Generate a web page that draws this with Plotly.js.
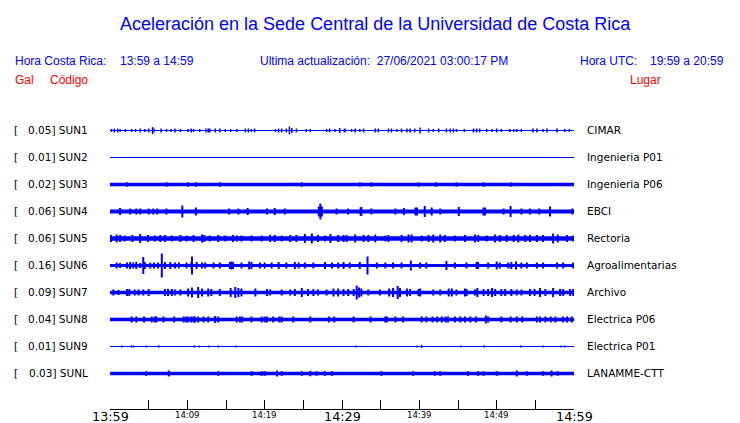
<!DOCTYPE html>
<html><head><meta charset="utf-8">
<script src="https://cdn.plot.ly/plotly-3.0.1.min.js"></script>
<style>html,body{margin:0;padding:0;background:#fff}#chart{width:740px;height:423px}</style>
</head><body><div id="chart"></div>
<script>
// ---------------- data ----------------
const stations = ['SUN1','SUN2','SUN3','SUN4','SUN5','SUN6','SUN7','SUN8','SUN9','SUNL'];
const places = ['CIMAR','Ingenieria P01','Ingenieria P06','EBCI','Rectoria','Agroalimentarias','Archivo','Electrica P06','Electrica P01','LANAMME-CTT'];
const peaks = ['0.05','0.01','0.02','0.06','0.06','0.16','0.09','0.04','0.01','0.03'];
// background noise half-amplitude (relative units) per station
const noiseLevel = [0.5, 0.5, 1.8, 2.0, 2.3, 1.6, 1.7, 1.7, 0.5, 1.7];
// bursts: [minute after 13:59, half-amplitude]
const burstsSUN1 = [[0.2,1.5],[0.56,2],[1.0,2],[1.3,1.5],[2.0,1.5],[2.8,1.5],[3.3,1.5],[3.9,2],[4.5,1.5],[5.0,2],[5.5,3.5],[5.7,2],[6.6,2],[7.3,1.5],[7.9,1.5],[8.4,2],[9.1,1.5],[10.1,1.5],[10.5,2],[10.8,1.5],[11.6,1.5],[12.4,2],[12.7,2],[12.9,2],[13.6,2],[14.2,2],[14.9,1.5],[15.6,1.5],[16.4,1.5],[17.5,2],[17.9,2],[18.3,1.5],[18.7,2],[21.4,1.5],[21.8,2],[22.2,2],[22.8,2],[23.2,4],[23.5,2.5],[24.1,2],[25.4,1.5],[25.9,1.5],[28.0,1.5],[28.4,2],[29.1,1.5],[29.7,2.5],[30.3,1.5],[30.4,2],[31.25,1.5],[31.7,2],[32.3,1.5],[32.8,2],[34.3,2],[34.7,2],[36.0,2],[36.4,2],[37.1,1.5],[37.7,2],[38.4,2],[38.8,2],[39.4,2],[40.1,3],[41.2,2],[41.8,1.5],[42.5,2],[43.5,2],[44.0,2],[44.4,2],[44.8,1.5],[45.8,1.5],[47.0,2],[47.4,2],[47.8,2],[48.7,1.5],[49.4,1.5],[50.0,2],[50.6,1.5],[51.7,1.5],[52.2,1.5],[52.6,1.5],[53.2,1.5],[54.7,2],[55.2,2],[56.0,1.5],[56.5,2],[57.8,2],[58.8,1.5],[59.4,1.5]];
const burstsSUN2 = [];
const burstsSUN3 = [[2.2,2.2],[7.3,2.2],[10.1,2.2],[11.1,2.2],[14.2,2.2],[24.8,2.2],[32.3,2.2],[33.8,2.2],[39.9,2.2],[42.2,2.2],[44.8,2.2],[48.3,2.2],[51.9,2.2]];
const burstsSUN4 = [[1.3,3.5],[2.6,3],[3.4,3],[3.9,3],[5.0,3],[5.6,3],[6.1,3],[7.3,3],[9.35,6],[11.1,4],[15.4,3],[16.6,3],[17.8,3.5],[20.3,3],[21.3,3.5],[22.6,3],[27.0,5],[27.2,8],[27.4,5],[29.3,3],[30.8,3],[32.4,4],[32.5,4.5],[33.8,3],[36.9,3],[38.0,3.5],[39.5,4],[39.7,4],[40.7,5.5],[41.6,4],[42.7,3],[45.1,4.5],[48.3,4],[48.5,4],[50.9,3],[51.8,5.5],[53.2,3],[54.3,3],[55.5,3],[56.9,5],[59.8,3]];
const burstsSUN5 = [[0.13,3.5],[0.86,4],[1.3,3.5],[1.9,3],[2.9,3.5],[3.9,4.5],[4.9,3.5],[5.8,3],[6.5,3.5],[7.1,3.5],[8.0,3],[9.1,3.5],[9.9,3],[10.8,3.5],[11.9,4],[12.2,3.5],[12.9,3],[14.0,3.5],[14.9,3],[15.9,3.5],[16.4,3],[17.0,3],[18.3,3],[19.6,3],[20.7,3.5],[21.3,3.5],[22.2,3],[23.3,3.5],[24.1,3.5],[25.2,4.5],[26.1,5],[26.9,3.5],[27.8,3],[28.5,4.5],[29.5,3.5],[30.2,3.5],[30.6,3.5],[31.7,4],[32.8,3.5],[33.4,3.5],[34.3,4],[35.6,3],[36.0,3.5],[37.7,3.5],[38.6,4],[39.0,4],[40.3,3],[41.2,3.5],[41.8,4],[42.7,4],[43.3,3.5],[44.6,3],[45.9,3.5],[47.2,4],[47.6,3.5],[48.7,3],[49.8,4],[50.4,3.5],[51.3,3.5],[52.2,3.5],[52.8,4],[53.7,3.5],[54.3,3.5],[55.2,3.5],[56.0,3.5],[57.3,5],[57.9,4],[59.1,3.5],[59.9,3]];
const burstsSUN6 = [[0.86,3],[1.3,2.5],[2.2,3],[2.6,3.5],[3.0,3],[3.4,3.5],[3.9,2.5],[4.3,8.5],[4.5,3.5],[5.2,3],[5.7,3],[6.2,3],[6.7,12],[7.1,3.5],[7.8,3.5],[8.4,3],[8.9,3],[9.9,3],[10.5,3],[10.6,9],[11.2,3.5],[11.9,3],[12.3,3],[13.4,3],[14.2,3],[15.5,3.5],[15.7,4],[15.9,3.5],[17.0,3],[18.0,4],[18.3,3.5],[19.4,3],[20.0,3],[20.9,3],[21.8,3.5],[22.8,3],[23.9,3.5],[24.4,3],[25.2,3],[26.3,3],[27.8,3.5],[28.7,3],[29.5,3],[30.2,3.5],[31.0,3],[32.3,3.5],[33.3,9],[34.5,3],[35.6,3],[36.6,3],[37.7,3],[38.9,5],[40.1,3],[40.9,3],[43.5,4.5],[44.6,3],[46.1,3],[47.4,3.5],[47.6,3.5],[48.9,3],[50.0,4],[50.4,3],[51.5,3],[51.9,3.5],[52.5,4],[53.2,3],[53.9,3],[55.2,3],[56.0,3],[57.8,3],[58.6,3],[59.9,3]];
const burstsSUN7 = [[0.43,3],[1.1,2.5],[2.2,3.5],[2.5,3.5],[3.2,3],[3.7,3],[4.3,3],[5.0,3.5],[7.1,3.5],[7.5,3.5],[8.0,3.5],[8.4,3],[9.1,3],[10.1,4],[10.6,5],[11.4,5.5],[11.9,4],[12.7,4],[13.1,3.5],[14.2,3.5],[15.6,4.5],[16.2,5.5],[16.6,4.5],[17.0,4],[18.8,4],[20.3,3.5],[20.7,3],[22.2,3],[23.3,3],[23.9,3.5],[24.8,4.5],[25.6,3.5],[26.3,3.5],[26.9,3],[28.0,3],[28.9,4],[29.5,4],[30.2,3.5],[30.8,3.5],[31.5,3.5],[31.9,7],[32.2,5],[32.5,4],[33.4,3],[34.9,3],[36.1,4],[36.6,4.5],[37.2,6.5],[37.5,4.5],[38.4,4],[38.8,3.5],[39.9,3.5],[40.1,4],[41.8,3],[42.7,3],[43.8,4],[44.2,4],[44.8,3],[45.9,4],[46.1,3.5],[47.2,3],[47.5,4.5],[48.3,3.5],[48.9,3.5],[49.4,4.5],[49.8,3.5],[50.6,3.5],[51.1,3.5],[51.9,3.5],[52.6,3],[53.2,3],[54.3,3.5],[54.9,3.5],[55.6,4.5],[56.3,3.5],[57.3,4.5],[58.2,3.5],[58.6,3.5],[59.5,3.5],[59.9,3.5]];
const burstsSUN8 = [[2.8,3],[3.4,3],[4.4,3],[5.4,3],[5.8,3],[6.0,3],[6.9,3],[8.3,3],[9.5,3],[9.8,3],[10.1,3],[10.5,3],[10.8,3],[11.0,3],[11.4,3],[12.1,3],[12.7,3],[13.6,3.5],[14.0,3],[16.4,3],[16.8,3],[17.1,3],[18.3,3],[19.6,3],[20.0,3],[20.3,3],[21.1,3],[21.9,3],[22.2,3],[23.7,3],[25.9,3],[28.3,3],[29.0,3],[31.5,3],[33.7,3],[35.6,3],[35.8,3],[36.9,3],[37.9,3],[40.3,3],[40.9,3],[41.7,3],[42.3,3],[42.9,3],[43.4,3],[43.7,3],[44.6,3],[45.3,3],[45.9,3],[46.6,3],[47.3,3],[48.6,4],[48.9,3],[50.6,3],[51.8,3],[52.6,3],[53.3,3],[55.2,3],[55.6,3],[56.3,3],[57.0,3],[57.6,3],[58.6,3],[59.1,3],[59.7,3]];
const burstsSUN9 = [[1.5,1.1],[2.8,1.1],[3.1,1.1],[4.7,1.1],[6.3,1.1],[10.9,1.1],[11.5,1.1],[12.8,1.1],[14.0,1.1],[16.3,1.1],[31.8,1.1],[39.7,1.1],[40.3,1.6],[45.4,1.1],[48.4,1.1],[53.1,1.1],[56.0,1.1],[58.3,1.1],[58.8,1.1]];
const burstsSUNL = [[4.7,2.3],[7.6,3],[14.0,2.3],[18.3,2.3],[19.6,2.3],[20.0,2.3],[21.6,3],[22.2,2.3],[24.8,2.3],[25.9,2.8],[26.7,2.3],[27.8,2.3],[28.7,2.3],[35.1,2.3],[39.2,2.3],[42.0,2.3],[42.7,2.3],[46.3,2.3],[47.6,2.3],[48.3,2.3],[50.0,2.3],[52.6,3],[53.9,2.3],[56.0,2.3],[57.1,3],[57.9,2.3]];
const bursts = [burstsSUN1,burstsSUN2,burstsSUN3,burstsSUN4,burstsSUN5,burstsSUN6,burstsSUN7,burstsSUN8,burstsSUN9,burstsSUNL];
const tickMinutes = [0,5,10,15,20,25,30,35,40,45,50,55,60];
const tickLabels = ['13:59','','14:09','','14:19','','14:29','','14:39','','14:49','','14:59'];
const majorLabels = ['13:59','14:29','14:59'];
const titleText = 'Aceleración en la Sede Central de la Universidad de Costa Rica';
const headerLeft = ['Hora Costa Rica:', '13:59 a 14:59'];
const headerMid = 'Ultima actualización:  27/06/2021 03:00:17 PM';
const headerRight = ['Hora UTC:', '19:59 a 20:59'];

// ---------------- layout constants ----------------
const W = 740, H = 423, ML = 110, MR = 166, MT = 115, MB = 14;
const PW = W - ML - MR, PH = H - MT - MB;
const LANE_PX = 27, FIRST_LANE_PX = 130.5;
const yTop = (FIRST_LANE_PX - MT) / LANE_PX;
const yBot = -(H - MB - FIRST_LANE_PX) / LANE_PX;
const BLUE = '#0000ff', RED = '#ff0000';
const px2x = p => (p - ML) / PW;
const px2y = p => (H - MB - p) / PH;

const traces = [];
stations.forEach((s, i) => {
  const y0 = -i;
  const b = noiseLevel[i] / LANE_PX;
  traces.push({
    type: 'scatter', mode: 'lines', x: [0, 60, 60, 0, 0],
    y: [y0 - b, y0 - b, y0 + b, y0 + b, y0 - b],
    fill: 'toself', fillcolor: BLUE, line: {width: 0, color: BLUE},
    hoverinfo: 'skip', showlegend: false
  });
  const xs = [], ys = [];
  bursts[i].forEach(([t, a]) => {
    xs.push(t, t, null);
    ys.push(y0 - a / LANE_PX, y0 + a / LANE_PX, null);
  });
  if (xs.length) traces.push({
    type: 'scatter', mode: 'lines', x: xs, y: ys,
    line: {width: noiseLevel[i] < 1 ? 1.5 : 2, color: BLUE}, hoverinfo: 'skip', showlegend: false, connectgaps: false
  });
});

const ann = [];
function txt(text, px, py, size, color, xanchor, yanchor, family, extra) {
  ann.push(Object.assign({
    text, xref: 'paper', yref: 'paper', x: px2x(px), y: px2y(py),
    xanchor, yanchor, showarrow: false, borderpad: 0, borderwidth: 0,
    font: {family, size, color}
  }, extra || {}));
}
const SANS = 'Liberation Sans, Arial, sans-serif';
const DJV = 'DejaVu Sans, sans-serif';
// header
txt(titleText, 375, 33.8, 18, BLUE, 'center', 'bottom', SANS);
txt(headerLeft[0], 15, 67.5, 12, BLUE, 'left', 'bottom', SANS);
txt(headerLeft[1], 120, 67.5, 12, BLUE, 'left', 'bottom', SANS);
txt(headerMid, 260, 67.5, 12, BLUE, 'left', 'bottom', SANS);
txt(headerRight[0], 580, 67.5, 12, BLUE, 'left', 'bottom', SANS);
txt(headerRight[1], 650, 67.5, 12, BLUE, 'left', 'bottom', SANS);
txt('Gal', 15, 87.5, 12, RED, 'left', 'bottom', SANS);
txt('Código', 50, 87.5, 12, RED, 'left', 'bottom', SANS);
txt('Lugar', 630, 87.5, 12, RED, 'left', 'bottom', SANS);
// lane labels
stations.forEach((s, i) => {
  const py = FIRST_LANE_PX - 0.5 + i * LANE_PX;
  txt('[', 14, py, 10.5, '#000', 'left', 'middle', DJV);
  txt(peaks[i] + '] ' + s, 88, py, 10.5, '#000', 'right', 'middle', DJV);
  txt(places[i], 587, py, 10.5, '#000', 'left', 'middle', DJV);
});
// time labels
tickMinutes.forEach((m, k) => {
  const lab = tickLabels[k];
  if (!lab) return;
  const major = majorLabels.includes(lab);
  ann.push({
    text: lab, xref: 'x', yref: 'paper', x: m, y: 0, xanchor: 'center', yanchor: 'top',
    yshift: major ? 0.5 : -1.3, showarrow: false, borderpad: 0, borderwidth: 0,
    font: {family: DJV, size: major ? 12.8 : 8.5, color: '#000'}
  });
});

const layout = {
  width: W, height: H, margin: {l: ML, r: MR, t: MT, b: MB, pad: 0},
  paper_bgcolor: '#fff', plot_bgcolor: '#fff', showlegend: false,
  xaxis: {range: [0, 60], tickvals: tickMinutes, showticklabels: false, ticks: 'inside',
          ticklen: 9, tickwidth: 1, tickcolor: '#000', showline: true, linecolor: '#000',
          linewidth: 1, showgrid: false, zeroline: false, fixedrange: true},
  yaxis: {range: [yBot, yTop], visible: false, fixedrange: true},
  annotations: ann
};
Plotly.newPlot('chart', traces, layout, {staticPlot: true, displayModeBar: false});
</script></body></html>
